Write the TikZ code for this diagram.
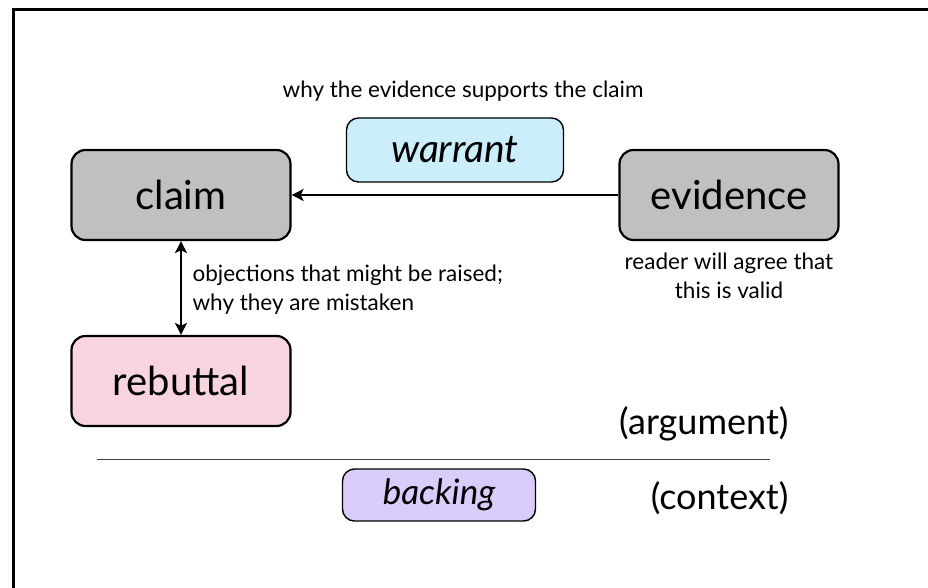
\documentclass[tikz,border=0pt]{standalone}
\usepackage{fontspec}
\setmainfont{Lato}
\usetikzlibrary{arrows.meta}

\definecolor{boxgray}{RGB}{192,192,192}
\definecolor{warrantblue}{RGB}{204,238,251}
\definecolor{rebuttalpink}{RGB}{248,212,223}
\definecolor{backinglilac}{RGB}{217,204,251}

\begin{document}
\begin{tikzpicture}[x=1pt, y=-1pt,
        head/.tip={Stealth[length=12pt, width=12pt, inset=3pt]},
        part/.style={draw, line width=2.2pt, rounded corners=14pt, minimum width=219pt,
            minimum height=90pt, font=\fontsize{40}{44}\selectfont},
        ground/.style={draw, line width=1.4pt, rounded corners=12pt},
        note/.style={font=\fontsize{22.5}{29}\selectfont},
        side/.style={font=\fontsize{36}{40}\selectfont, anchor=east},
        link/.style={line width=2.5pt}]
    \useasboundingbox (0, 0) rectangle (928, 588);
    % frame of the slide
    \draw[line width=3pt] (13, 588) -- (13, 10) -- (928, 10);

    \node[part, fill=boxgray] (claim) at (181, 195) {claim};
    \node[part, fill=boxgray] (evidence) at (729, 195) {evidence};
    \node[part, fill=rebuttalpink] (rebuttal) at (181, 381) {rebuttal};
    \node[ground, fill=warrantblue, minimum width=217pt, minimum height=64pt,
        font=\fontsize{39}{43}\selectfont\itshape] (warrant) at (455, 150) {warrant};
    \node[ground, fill=backinglilac, minimum width=193pt, minimum height=52pt,
        font=\fontsize{35}{39}\selectfont\itshape] (backing) at (439, 495) {backing};

    \node[note] (why) at (463, 91) {why the evidence supports the claim};
    \node[note, align=center, anchor=north] (valid) at ([yshift=-8pt]evidence.south) {reader will agree that\\this is valid};
    \node[note, align=left, anchor=west] (objections) at (189, 290) {objections that might be raised;\\why they are mistaken};

    \draw[link, -head] (evidence) -- (claim);
    \draw[link, head-head] (claim) -- (rebuttal);

    \node[side] (argument) at (792, 424) {(argument)};
    \node[side] (context) at (792, 498) {(context)};
    \coordinate (cut west) at (97, 459);
    \coordinate (cut east) at (770, 459);
    \draw[line width=1pt, black!75] (cut west) -- (cut east);
\end{tikzpicture}
\end{document}
